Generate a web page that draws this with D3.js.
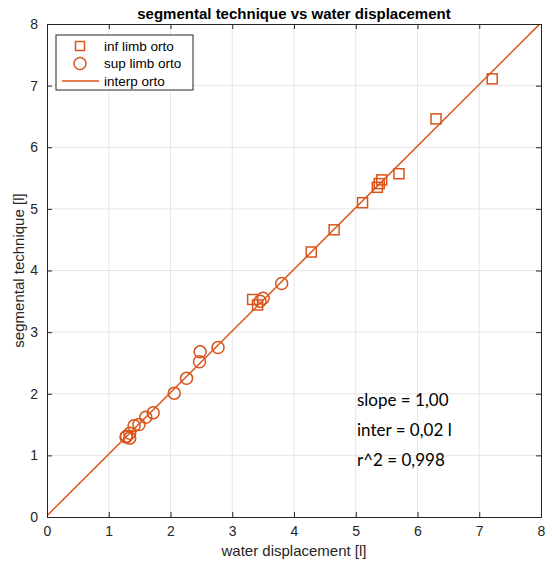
<!DOCTYPE html>
<html><head><meta charset="utf-8">
<script src="https://cdn.jsdelivr.net/npm/d3@7/dist/d3.min.js"></script>
<style>body{margin:0;background:#fff}svg{display:block}</style>
</head><body>
<svg id="chart" width="552" height="567"></svg>
<script>
const infX = [7.21, 6.30, 5.70, 5.42, 5.38, 5.35, 5.11, 4.65, 4.28, 3.33, 3.41];
const infY = [7.11, 6.46, 5.57, 5.47, 5.41, 5.35, 5.10, 4.66, 4.30, 3.53, 3.44];
const supX = [3.80, 3.50, 3.45, 2.77, 2.48, 2.47, 2.26, 2.06, 1.72, 1.60, 1.49, 1.41, 1.34, 1.29, 1.34, 1.28];
const supY = [3.79, 3.55, 3.50, 2.75, 2.68, 2.52, 2.25, 2.01, 1.69, 1.62, 1.50, 1.48, 1.36, 1.31, 1.28, 1.30];
const fitSlope = 1.00, fitInter = 0.02;
const ticks = [0,1,2,3,4,5,6,7,8];
const legendLabels = ["inf limb orto", "sup limb orto", "interp orto"];
const annot = ["slope = 1,00", "inter = 0,02 l", "r^2 = 0,998"];

const C = "#D95319", AX = "#262626";
const svg = d3.select("#chart");
const L = 47, R = 541, T = 24, B = 517;
const x = d3.scaleLinear().domain([0,8]).range([L,R]);
const y = d3.scaleLinear().domain([0,8]).range([B,T]);

// grid
const g = svg.append("g");
g.selectAll(".gx").data(ticks.slice(1,-1)).join("line")
  .attr("x1",d=>x(d)).attr("x2",d=>x(d)).attr("y1",T).attr("y2",B)
  .attr("stroke","#e6e6e6").attr("stroke-width",1);
g.selectAll(".gy").data(ticks.slice(1,-1)).join("line")
  .attr("y1",d=>y(d)).attr("y2",d=>y(d)).attr("x1",L).attr("x2",R)
  .attr("stroke","#e6e6e6").attr("stroke-width",1);

// clip
svg.append("clipPath").attr("id","clip").append("rect").attr("x",L).attr("y",T).attr("width",R-L).attr("height",B-T);

// fit line
const lineData = [0,8].map(v=>[v, fitSlope*v+fitInter]);
svg.append("path").attr("clip-path","url(#clip)")
  .attr("d", d3.line().x(d=>x(d[0])).y(d=>y(d[1]))(lineData))
  .attr("stroke",C).attr("stroke-width",1.5).attr("fill","none");

// squares
const sq = 10;
svg.selectAll(".sq").data(infX.map((v,i)=>[v,infY[i]])).join("rect")
  .attr("x",d=>x(d[0])-sq/2).attr("y",d=>y(d[1])-sq/2).attr("width",sq).attr("height",sq)
  .attr("fill","none").attr("stroke",C).attr("stroke-width",1.5);
// circles
svg.selectAll(".ci").data(supX.map((v,i)=>[v,supY[i]])).join("circle")
  .attr("cx",d=>x(d[0])).attr("cy",d=>y(d[1])).attr("r",6)
  .attr("fill","none").attr("stroke",C).attr("stroke-width",1.5);

// axes
const font = "'Liberation Sans', Arial, sans-serif";
const xa = svg.append("g").attr("transform",`translate(0,${B})`)
  .call(d3.axisBottom(x).tickValues(ticks).tickSize(-5).tickPadding(9).tickFormat(d3.format("d")));
const xa2 = svg.append("g").attr("transform",`translate(0,${T})`)
  .call(d3.axisTop(x).tickValues(ticks).tickSize(-5).tickFormat(""));
const ya = svg.append("g").attr("transform",`translate(${L},0)`)
  .call(d3.axisLeft(y).tickValues(ticks).tickSize(-5).tickPadding(9).tickFormat(d3.format("d")));
const ya2 = svg.append("g").attr("transform",`translate(${R},0)`)
  .call(d3.axisRight(y).tickValues(ticks).tickSize(-5).tickFormat(""));
[xa,xa2,ya,ya2].forEach(a=>{
  a.selectAll("path").attr("stroke",AX).attr("stroke-width",1);
  a.selectAll("line").attr("stroke",AX).attr("stroke-width",1);
  a.selectAll("text").attr("fill",AX).style("font-family",font).style("font-size","14px");
});

// title & labels
svg.append("text").attr("x",(L+R)/2).attr("y",19).attr("text-anchor","middle")
  .style("font-family",font).style("font-size","15px").style("font-weight","bold").attr("fill","#000")
  .text("segmental technique vs water displacement");
svg.append("text").attr("x",(L+R)/2).attr("y",556).attr("text-anchor","middle")
  .style("font-family",font).style("font-size","15px").attr("fill",AX).text("water displacement [l]");
svg.append("text").attr("transform",`translate(24,${(T+B)/2}) rotate(-90)`).attr("text-anchor","middle")
  .style("font-family",font).style("font-size","15px").attr("fill",AX).text("segmental technique [l]");

// legend
const lg = svg.append("g");
lg.append("rect").attr("x",56).attr("y",35).attr("width",121+16).attr("height",55)
  .attr("fill","#fff").attr("stroke",AX).attr("stroke-width",1);
const ly = [46, 63.5, 81];
lg.append("rect").attr("x",80-4.5).attr("y",ly[0]-4.5).attr("width",9).attr("height",9)
  .attr("fill","none").attr("stroke",C).attr("stroke-width",1.5);
lg.append("circle").attr("cx",80).attr("cy",ly[1]).attr("r",6)
  .attr("fill","none").attr("stroke",C).attr("stroke-width",1.5);
lg.append("line").attr("x1",62).attr("x2",99).attr("y1",ly[2]).attr("y2",ly[2])
  .attr("stroke",C).attr("stroke-width",1.5);
lg.selectAll(".lt").data(legendLabels).join("text")
  .attr("x",104).attr("y",(d,i)=>ly[i]+4.5)
  .style("font-family",font).style("font-size","13.5px").attr("fill","#000").text(d=>d);

// annotation
svg.selectAll(".an").data(annot).join("text")
  .attr("x",357).attr("y",(d,i)=>406+i*30)
  .style("font-family","Lato, 'Open Sans', sans-serif").style("font-size","17px").attr("fill","#000")
  .text(d=>d);
</script>
</body></html>
